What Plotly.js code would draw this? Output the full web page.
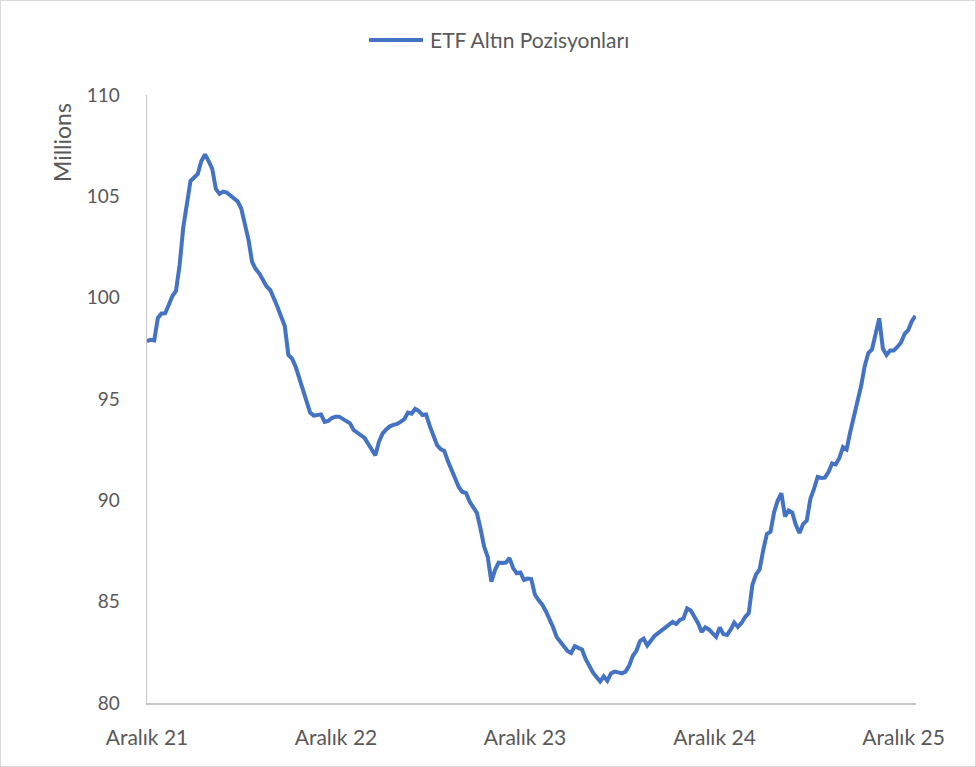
<!DOCTYPE html>
<html>
<head>
<meta charset="utf-8">
<script src="https://cdn.plot.ly/plotly-3.0.1.min.js"></script>
<style>
  html, body { margin: 0; padding: 0; background: #fff; }
  #wrap { position: relative; width: 976px; height: 767px; }
  #chart { width: 976px; height: 767px; }
  #frame { position: absolute; left: 0; top: 0; width: 976px; height: 767px; box-sizing: border-box; border: 1px solid #d9d9d9; pointer-events: none; }
</style>
</head>
<body>
<div id="wrap"><div id="chart"></div><div id="frame"></div></div>
<script>
// Weekly series, starting 1 Dec 2021 (values in millions of ounces)
const seriesName = 'ETF Altın Pozisyonları';
const startDate = '2021-12-01';
const values = [
  97.86, 97.92, 97.89, 99.00, 99.22, 99.23, 99.64, 100.08, 100.33, 101.61,
  103.46, 104.52, 105.76, 105.93, 106.10, 106.74, 107.06, 106.74, 106.35, 105.36,
  105.12, 105.23, 105.19, 105.04, 104.92, 104.75, 104.40, 103.63, 102.85, 101.76,
  101.41, 101.19, 100.82, 100.55, 100.38, 100.01, 99.54, 99.07, 98.60, 97.17,
  97.00, 96.60, 96.04, 95.47, 94.95, 94.33, 94.18, 94.19, 94.24, 93.87,
  93.92, 94.06, 94.13, 94.13, 94.00, 93.87, 93.80, 93.47, 93.35, 93.22,
  93.08, 92.79, 92.48, 92.22, 92.90, 93.30, 93.50, 93.65, 93.72, 93.77,
  93.88, 94.01, 94.33, 94.28, 94.51, 94.41, 94.21, 94.24, 93.67, 93.15,
  92.73, 92.53, 92.44, 91.94, 91.47, 91.10, 90.66, 90.41, 90.36, 89.94,
  89.62, 89.38, 88.61, 87.72, 87.20, 85.99, 86.56, 86.93, 86.91, 86.93,
  87.15, 86.66, 86.40, 86.44, 86.07, 86.14, 86.12, 85.35, 85.08, 84.86,
  84.54, 84.19, 83.75, 83.26, 83.03, 82.84, 82.57, 82.47, 82.81, 82.72,
  82.64, 82.17, 81.83, 81.51, 81.28, 81.06, 81.32, 81.10, 81.46, 81.55,
  81.51, 81.46, 81.55, 81.83, 82.32, 82.57, 83.06, 83.18, 82.84, 83.06,
  83.31, 83.45, 83.59, 83.77, 83.90, 84.00, 83.90, 84.10, 84.17, 84.67,
  84.57, 84.29, 83.95, 83.50, 83.73, 83.63, 83.41, 83.26, 83.73, 83.40,
  83.36, 83.62, 83.97, 83.75, 83.95, 84.24, 84.43, 85.82, 86.34, 86.59,
  87.55, 88.34, 88.45, 89.42, 89.99, 90.35, 89.20, 89.50, 89.40, 88.78,
  88.39, 88.83, 89.00, 90.07, 90.56, 91.15, 91.10, 91.12, 91.40, 91.82,
  91.77, 92.09, 92.63, 92.51, 93.37, 94.11, 94.79, 95.64, 96.63, 97.27,
  97.44, 98.26, 98.98, 97.49, 97.17, 97.39, 97.39, 97.57, 97.79, 98.21,
  98.40, 98.85, 99.10
];
const tickDates = ['2021-12-01', '2022-12-01', '2023-12-01', '2024-12-01', '2025-12-01'];
const tickLabels = ['Aralık 21', 'Aralık 22', 'Aralık 23', 'Aralık 24', 'Aralık 25'];
const yTicks = [80, 85, 90, 95, 100, 105, 110];

const t0 = Date.parse(startDate + 'T00:00:00Z');
const dates = values.map((_, i) => new Date(t0 + i * 7 * 86400000).toISOString().slice(0, 10));

const font = 'Lato, "Open Sans", sans-serif';
const grey = '#595959';
const blue = '#4472C4';

const trace = {
  type: 'scatter', mode: 'lines', name: seriesName,
  x: dates, y: values,
  line: { color: blue, width: 4 },
  showlegend: false
};

const layout = {
  width: 976, height: 767,
  margin: { l: 147, r: 60, t: 95, b: 64 },
  paper_bgcolor: '#fff', plot_bgcolor: '#fff',
  font: { family: font, color: grey, size: 18 },
  showlegend: false,
  xaxis: {
    type: 'date', range: ['2021-12-01', '2025-12-25'],
    tickmode: 'array', tickvals: tickDates, ticktext: tickLabels,
    ticks: 'outside', ticklen: 15, tickcolor: 'rgba(0,0,0,0)',
    showgrid: false, zeroline: false,
    showline: true, linecolor: '#c6c6c6', linewidth: 1.5,
    tickfont: { family: font, size: 21, color: grey }
  },
  yaxis: {
    range: [80, 110], tickmode: 'array', tickvals: yTicks,
    ticks: 'outside', ticklen: 22, tickcolor: 'rgba(0,0,0,0)',
    showgrid: false, zeroline: false,
    showline: true, linecolor: '#c6c6c6', linewidth: 1.5,
    tickfont: { family: font, size: 19, color: grey }
  },
  shapes: [{
    type: 'line', xref: 'paper', yref: 'paper',
    x0: 0.2887, x1: 0.3589, y0: 1.0905, y1: 1.0905,
    line: { color: blue, width: 4 }
  }],
  annotations: [{
    text: 'Millions', xref: 'paper', yref: 'paper',
    x: -0.1105, y: 0.921, xanchor: 'center', yanchor: 'middle',
    textangle: -90, showarrow: false,
    font: { family: font, size: 23, color: grey }
  }, {
    text: seriesName, xref: 'paper', yref: 'paper',
    x: 0.3654, y: 1.0905, xanchor: 'left', yanchor: 'middle',
    showarrow: false,
    font: { family: font, size: 21, color: grey }
  }]
};

Plotly.newPlot('chart', [trace], layout, { displayModeBar: false, staticPlot: true });
</script>
</body>
</html>
